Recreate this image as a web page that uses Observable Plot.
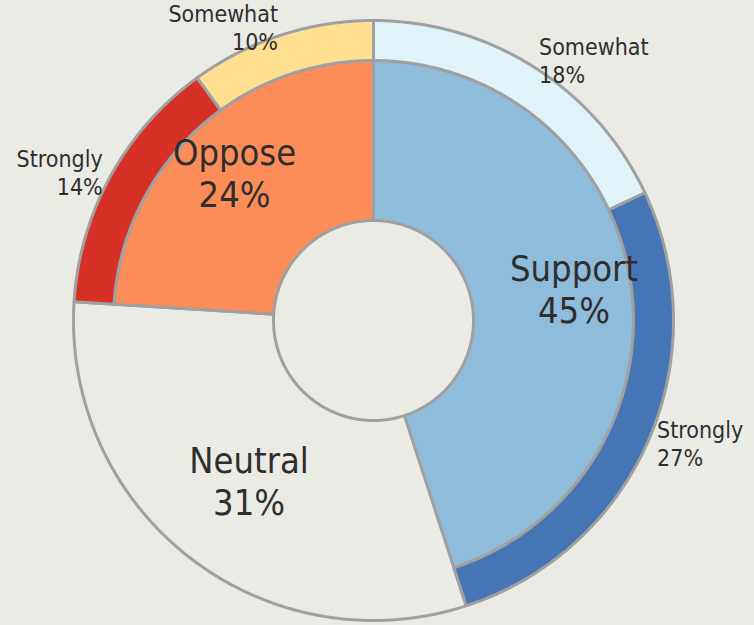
<!DOCTYPE html>
<html>
<head>
<meta charset="utf-8">
<script src="https://cdn.jsdelivr.net/npm/d3@7"></script>
<script src="https://cdn.jsdelivr.net/npm/@observablehq/plot@0.6"></script>
<style>
  html, body { margin: 0; padding: 0; background: #ebebe6; }
  #chart svg { display: block; background: #ebebe6; }
</style>
</head>
<body>
<div id="chart"></div>
<script>
// ---- data ----
const groups = ["Support", "Neutral", "Oppose"];
const groupValues = [45, 31, 24];
const outerParents = ["Support", "Support", "Oppose", "Oppose"];
const outerLabels = ["Somewhat", "Strongly", "Strongly", "Somewhat"];
const outerValues = [18, 27, 14, 10];

// ---- styles ----
const groupColors = {Support: "#8fbcdb", Neutral: "#ebebe6", Oppose: "#fc8d59"};
const outerColors = {
  "Support-Somewhat": "#e0f3f8", "Support-Strongly": "#4575b4",
  "Oppose-Strongly": "#d73027", "Oppose-Somewhat": "#fee090"
};
const W = 754, H = 625, cx = 373, cy = 320;
const rHole = 100, rMid = 260, rOut = 300;
const font = "'DejaVu Sans Condensed', 'Liberation Sans Narrow', sans-serif";

const total = d3.sum(groupValues);
const toAngle = v => v / total * 2 * Math.PI;

// inner segments
const starts = {};
let acc = 0;
const inner = groups.map((g, i) => {
  const a0 = toAngle(acc), a1 = toAngle(acc + groupValues[i]);
  starts[g] = acc;
  acc += groupValues[i];
  const hasOuter = outerParents.includes(g);
  return {name: g, value: groupValues[i], a0, a1, r0: rHole, r1: hasOuter ? rMid : rOut, fill: groupColors[g]};
});
// outer segments
const offs = {};
const outer = outerLabels.map((l, i) => {
  const p = outerParents[i];
  const o = offs[p] || 0;
  const a0 = toAngle(starts[p] + o), a1 = toAngle(starts[p] + o + outerValues[i]);
  offs[p] = o + outerValues[i];
  return {name: l, parent: p, value: outerValues[i], a0, a1, r0: rMid, r1: rOut, fill: outerColors[p + "-" + l]};
});

function polygon(seg) {
  const n = Math.max(2, Math.ceil((seg.a1 - seg.a0) / (Math.PI / 360)));
  const pts = [];
  for (let k = 0; k <= n; k++) {
    const a = seg.a0 + (seg.a1 - seg.a0) * k / n;
    pts.push({x: seg.r1 * Math.sin(a), y: seg.r1 * Math.cos(a)});
  }
  for (let k = n; k >= 0; k--) {
    const a = seg.a0 + (seg.a1 - seg.a0) * k / n;
    pts.push({x: seg.r0 * Math.sin(a), y: seg.r0 * Math.cos(a)});
  }
  return pts;
}

const segs = [...inner, ...outer];
const segMarks = segs.map(s => Plot.line(polygon(s), {
  x: "x", y: "y", curve: "linear-closed",
  fill: s.fill, stroke: "#a0a0a0", strokeWidth: 3, strokeLinejoin: "round"
}));

const bigLabels = inner.map(s => {
  const a = (s.a0 + s.a1) / 2, r = 203;
  return {x: r * Math.sin(a), y: r * Math.cos(a), text: `${s.name}\n${s.value}%`};
});
const smallLabels = outer.map(s => {
  const a = (s.a0 + s.a1) / 2, r = 309;
  return {x: r * Math.sin(a), y: r * Math.cos(a), text: `${s.name}\n${s.value}%`, anchor: Math.sin(a) >= 0 ? "start" : "end"};
});

const chart = Plot.plot({
  width: W, height: H,
  margin: 0,
  x: {domain: [-cx, W - cx], axis: null},
  y: {domain: [-(H - cy), cy], axis: null},
  style: {background: "#ebebe6", fontFamily: font},
  marks: [
    ...segMarks,
    Plot.text(bigLabels, {x: "x", y: "y", text: "text", fontSize: 36, lineHeight: 1.17, lineAnchor: "middle", fill: "#2e2e2e", fontFamily: font}),
    Plot.text(smallLabels.filter(d => d.anchor === "start"), {x: "x", y: "y", text: "text", fontSize: 23, lineHeight: 1.22, lineAnchor: "middle", textAnchor: "start", fill: "#2e2e2e", fontFamily: font}),
    Plot.text(smallLabels.filter(d => d.anchor === "end"), {x: "x", y: "y", text: "text", fontSize: 23, lineHeight: 1.22, lineAnchor: "middle", textAnchor: "end", fill: "#2e2e2e", fontFamily: font})
  ]
});
document.getElementById("chart").appendChild(chart);
</script>
</body>
</html>
